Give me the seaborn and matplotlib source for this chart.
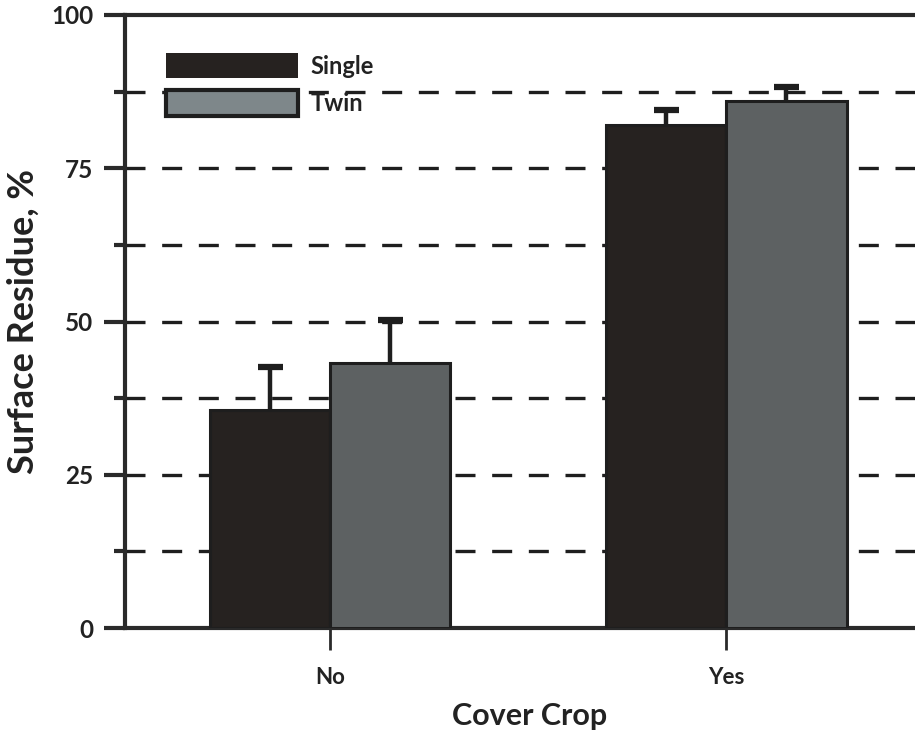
import matplotlib
matplotlib.use("Agg")
import matplotlib.pyplot as plt
import seaborn as sns
import pandas as pd
import numpy as np
from matplotlib.ticker import MultipleLocator

cover_crop = ["No", "Yes"]
planter = ["Single", "Twin"]
single_vals = [35.6, 82.0]
twin_vals = [43.2, 86.0]
single_err = [7.0, 2.5]
twin_err = [7.1, 2.2]
y_ticks = [0, 25, 50, 75, 100]

df = pd.DataFrame({
    "Cover Crop": cover_crop * 2,
    "Planter": ["Single"] * 2 + ["Twin"] * 2,
    "Residue": single_vals + twin_vals,
})
errs = {"Single": single_err, "Twin": twin_err}

sns.set_theme(style="white")
plt.rcParams["font.family"] = ["Lato", "DejaVu Sans"]
plt.rcParams["font.weight"] = "bold"

fig = plt.figure(figsize=(9.15, 7.3), dpi=100)
ax = fig.add_axes([125/915, 1 - 628/730, 1 - 125/915 + 0.02, (628 - 15)/730])

colors = {"Single": "#27221f", "Twin": "#5c6263"}
sns.barplot(data=df, x="Cover Crop", y="Residue", hue="Planter",
            order=cover_crop, hue_order=planter, palette=colors,
            width=0.606, gap=0, errorbar=None, edgecolor="#1e1e1e",
            linewidth=2.2, ax=ax, zorder=3)

for cont, name in zip(ax.containers, planter):
    xs = np.array([b.get_x() + b.get_width() / 2 for b in cont])
    hs = np.array([b.get_height() for b in cont])
    e = np.array(errs[name])
    ax.vlines(xs, hs, hs + e, color="#1e1e1e", lw=3.2, zorder=4)
    ax.plot(xs, hs + e, ls="none", marker="_", markersize=18,
            markeredgewidth=4.5, color="#1e1e1e", zorder=4)

ax.set_ylim(0, 100)
ax.set_xlim(-0.518, 1.522)
ax.set_yticks(y_ticks)
ax.yaxis.set_minor_locator(MultipleLocator(12.5))
ax.grid(False)
for yv in np.arange(12.5, 100, 12.5):
    ax.axhline(yv, color="#1e1e1e", lw=2.4, ls=(0, (6, 5)), zorder=1)

for s in ["left", "bottom", "top"]:
    ax.spines[s].set_visible(True)
    ax.spines[s].set_linewidth(3)
    ax.spines[s].set_color("#2a2a2a")
ax.spines["right"].set_visible(False)

ax.tick_params(axis="y", which="major", direction="out", length=15, width=3,
               color="#2a2a2a", left=True, labelsize=17.5, pad=8)
ax.tick_params(axis="y", which="minor", direction="out", length=8, width=3,
               color="#2a2a2a", left=True)
ax.tick_params(axis="x", which="major", direction="out", length=16, width=2,
               color="#2a2a2a", bottom=True, labelsize=16, pad=12)
for lab in ax.get_xticklabels() + ax.get_yticklabels():
    lab.set_fontweight("bold")
    lab.set_color("#222222")

ax.set_ylabel("Surface Residue, %", fontsize=26, fontweight="bold",
              color="#222222", labelpad=8)
ax.set_xlabel("Cover Crop", fontsize=22, fontweight="bold",
              color="#222222", labelpad=10)

leg = ax.legend(loc="upper left", bbox_to_anchor=(0.051, 0.938), frameon=False,
                handlelength=5.6, handleheight=1.28, fontsize=17,
                labelspacing=0.5, handletextpad=0.5, borderaxespad=0,
                borderpad=0)
for t in leg.get_texts():
    t.set_fontweight("bold")
    t.set_color("#222222")
hs_ = leg.legend_handles
hs_[0].set_linewidth(0)
hs_[1].set_facecolor("#7e878a")
hs_[1].set_edgecolor("#1e1e1e")
hs_[1].set_linewidth(3)

fig.savefig("out.png", dpi=100)
